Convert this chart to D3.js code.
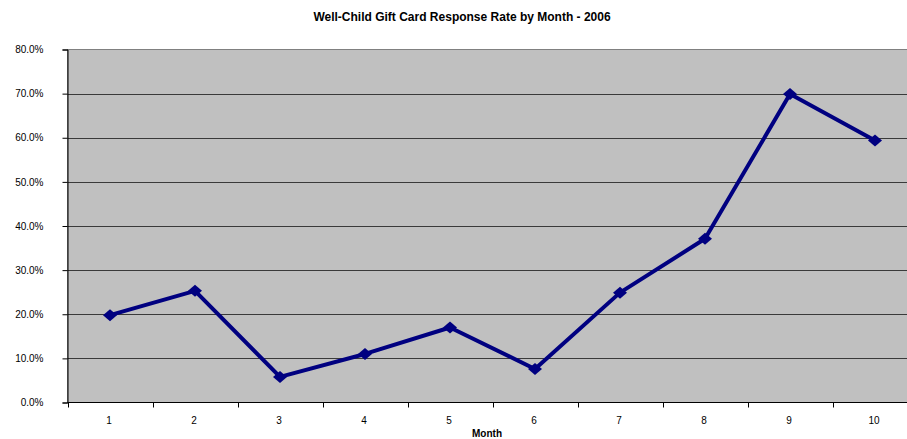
<!DOCTYPE html>
<html><head><meta charset="utf-8">
<script src="https://cdn.jsdelivr.net/npm/d3@7"></script>
<style>body{margin:0;background:#fff;}svg{display:block;font-family:"Liberation Sans",Arial,sans-serif;}</style>
</head><body>
<svg id="c" width="907" height="439"></svg>
<script>
const months = [1,2,3,4,5,6,7,8,9,10];
const responseRate = [0.198,0.253,0.058,0.110,0.170,0.076,0.249,0.371,0.699,0.594];
const yTicks = [0,0.1,0.2,0.3,0.4,0.5,0.6,0.7,0.8];
const title = "Well-Child Gift Card Response Rate by Month - 2006";
const xTitle = "Month";

const svg = d3.select("#c");
const L = 67.5, R = 917.5, T = 49.5, B = 402.5;
const x = d3.scaleBand().domain(months).range([L, R]);
const y = d3.scaleLinear().domain([0, 0.8]).range([B, T]);

svg.append("rect").attr("x", L).attr("y", T).attr("width", R - L).attr("height", B - T)
  .attr("fill", "#c0c0c0").attr("stroke", "#808080").attr("stroke-width", 1);

svg.append("g").selectAll("line").data(yTicks.filter(d => d > 0 && d < 0.8)).join("line")
  .attr("x1", L).attr("x2", R).attr("y1", d => Math.round(y(d)) + 0.5).attr("y2", d => Math.round(y(d)) + 0.5)
  .attr("stroke", "#3a3a3a").attr("stroke-width", 1);

const yAxis = svg.append("g").attr("transform", `translate(${L},0)`)
  .call(d3.axisLeft(y).tickValues(yTicks).tickFormat(d3.format(".1%")).tickSize(5).tickPadding(19));
yAxis.select(".domain").attr("stroke", "#000");
yAxis.selectAll(".tick line").attr("stroke", "#000");
yAxis.selectAll("text").attr("font-size", 10).attr("fill", "#000").attr("font-family", "Liberation Sans, Arial, sans-serif");

const xAxis = svg.append("g").attr("transform", `translate(0,${B})`);
xAxis.append("line").attr("x1", L).attr("x2", R).attr("y1", 0).attr("y2", 0).attr("stroke", "#000");
xAxis.selectAll("line.t").data(months).join("line").attr("class", "t")
  .attr("x1", d => Math.round(x(d)) + 0.5).attr("x2", d => Math.round(x(d)) + 0.5)
  .attr("y1", 0).attr("y2", 5).attr("stroke", "#000");
xAxis.selectAll("text").data(months).join("text")
  .attr("x", d => x(d) + x.bandwidth() / 2 - 1).attr("y", 21)
  .attr("text-anchor", "middle").attr("font-size", 10).attr("fill", "#000").text(d => d);

const pts = months.map((m, i) => [x(m) + x.bandwidth() / 2, y(responseRate[i])]);
svg.append("path").attr("d", d3.line()(pts)).attr("fill", "none")
  .attr("stroke", "#000080").attr("stroke-width", 4).attr("stroke-linejoin", "round");
svg.append("g").selectAll("path").data(pts).join("path")
  .attr("transform", d => `translate(${d[0]},${d[1]})`)
  .attr("d", "M0,-6L7,0L0,6L-7,0Z").attr("fill", "#000080");

svg.append("text").attr("x", 462).attr("y", 21).attr("text-anchor", "middle")
  .attr("font-size", 12).attr("font-weight", "bold").attr("fill", "#000").text(title);
svg.append("text").attr("x", 487).attr("y", 437).attr("text-anchor", "middle")
  .attr("font-size", 10).attr("font-weight", "bold").attr("fill", "#000").text(xTitle);
</script>
</body></html>
